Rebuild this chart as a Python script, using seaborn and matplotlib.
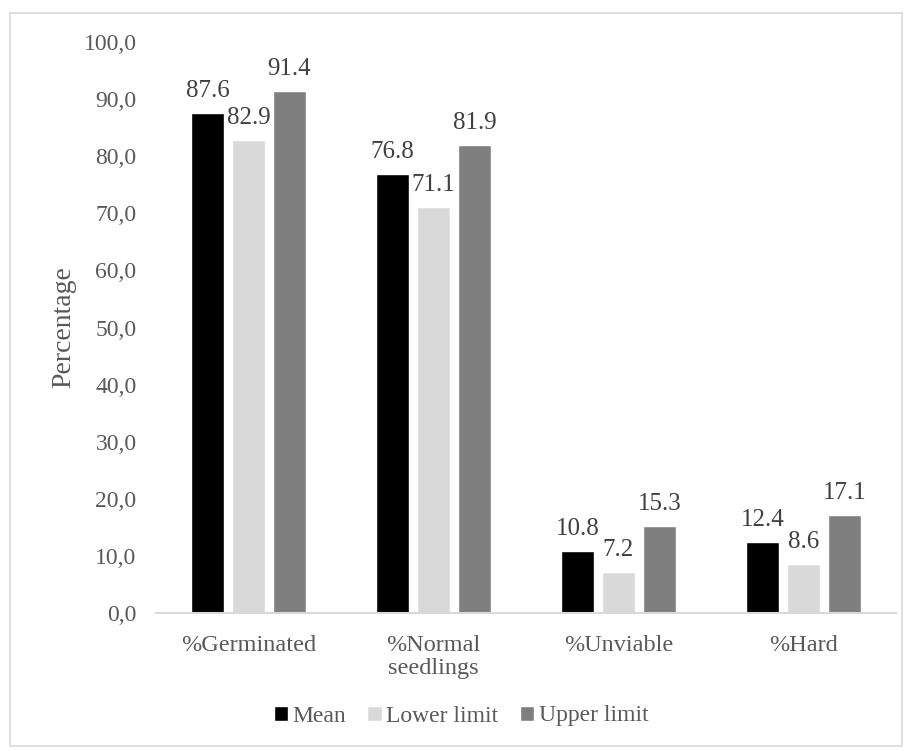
import pandas as pd
import matplotlib
matplotlib.use("Agg")
import matplotlib.pyplot as plt
from matplotlib.patches import Rectangle
import seaborn as sns

categories = ['%Germinated', '%Normal\nseedlings', '%Unviable', '%Hard']
series = ['Mean', 'Lower limit', 'Upper limit']
mean_vals = [87.6, 76.8, 10.8, 12.4]
lower_vals = [82.9, 71.1, 7.2, 8.6]
upper_vals = [91.4, 81.9, 15.3, 17.1]
yticks = [0, 10, 20, 30, 40, 50, 60, 70, 80, 90, 100]

colors = ['#000000', '#D9D9D9', '#7F7F7F']
text_color = '#595959'

sns.set_style('white')
plt.rcParams['font.family'] = ['Liberation Serif', 'DejaVu Serif']
plt.rcParams['font.size'] = 17

df = pd.concat([
    pd.DataFrame({'category': categories, 'value': vals, 'series': name})
    for name, vals in zip(series, [mean_vals, lower_vals, upper_vals])
])

fig = plt.figure(figsize=(9.12, 7.51), dpi=100)
ax = fig.add_axes([156 / 912, 1 - 613 / 751, 740 / 912, (613 - 42) / 751])

sns.barplot(data=df, x='category', y='value', hue='series', order=categories,
            hue_order=series, palette=colors, width=0.665, gap=0.2,
            saturation=1, ax=ax, legend=True)

for cont in ax.containers:
    ax.bar_label(cont, fmt='%.1f', padding=8, fontsize=18, color='#404040')

ax.set_ylim(0, 100)
ax.set_yticks(yticks)
ax.set_yticklabels([f'{t:.1f}'.replace('.', ',') for t in yticks])
ax.set_xlabel('')
ax.set_ylabel('Percentage', fontsize=20, color=text_color, labelpad=5)
ax.tick_params(axis='both', length=0, colors=text_color, labelsize=17)
ax.tick_params(axis='x', pad=16, labelsize=17.5)
ax.tick_params(axis='y', pad=14)
for lab in ax.get_xticklabels():
    lab.set_linespacing(1.1)

for s in ['top', 'right', 'left']:
    ax.spines[s].set_visible(False)
ax.spines['bottom'].set_color('#D9D9D9')
ax.spines['bottom'].set_linewidth(1.5)

handles, labels = ax.get_legend_handles_labels()
ax.legend_.remove()
fig.legend(handles, labels, loc='center', bbox_to_anchor=(461 / 912, 1 - 716 / 751),
           ncol=3, frameon=False, fontsize=17, handlelength=0.6, handleheight=0.6,
           handletextpad=0.2, columnspacing=0.9, labelcolor=text_color)

fig.patches.append(Rectangle((10 / 912, 1 - 746 / 751), 892 / 912, 733 / 751,
                             transform=fig.transFigure, fill=False,
                             edgecolor='#D9D9D9', linewidth=1.2))

fig.savefig('out.png', dpi=100)
